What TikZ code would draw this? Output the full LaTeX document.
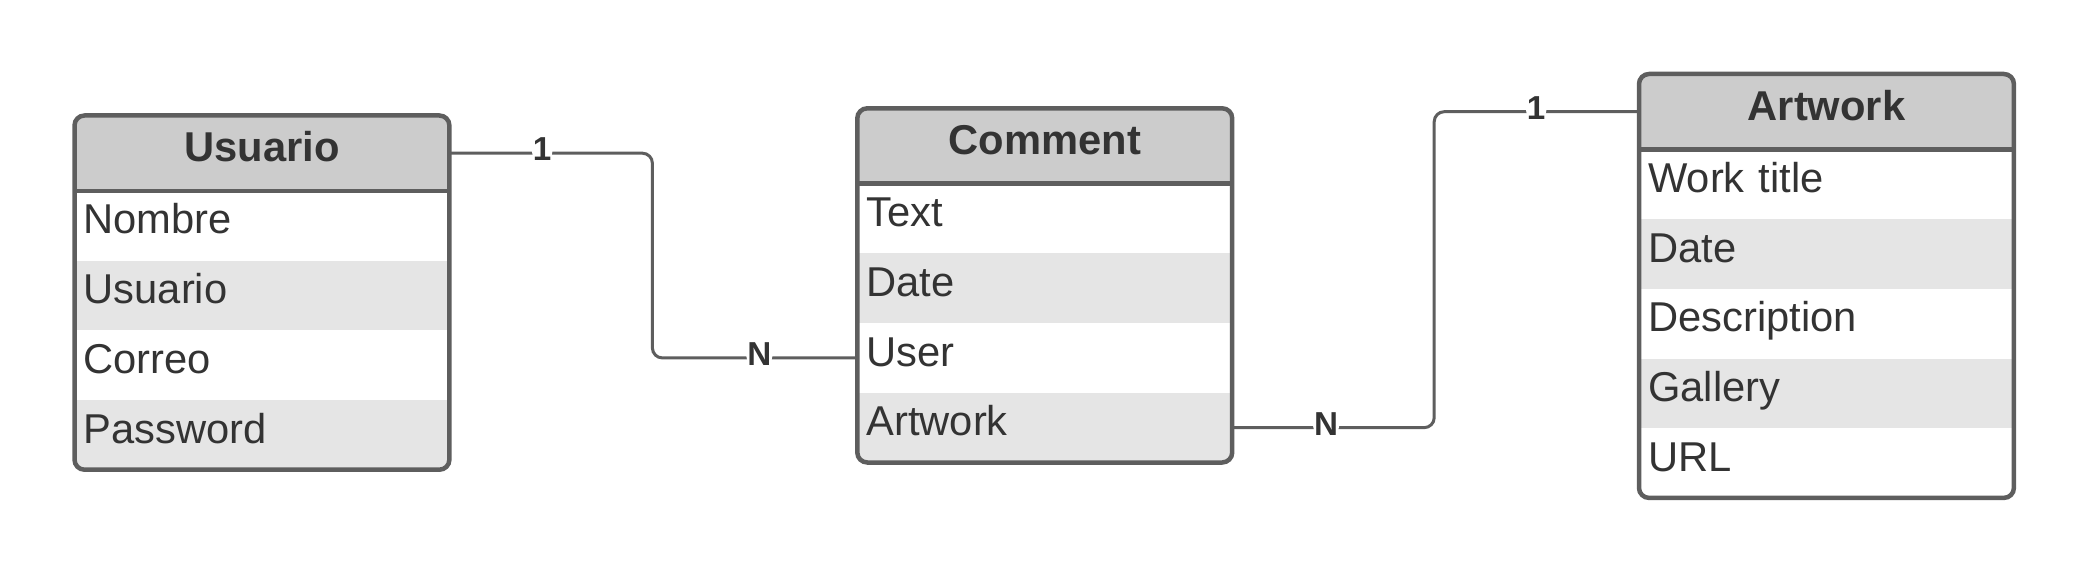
\documentclass[tikz,border=0pt]{standalone}
\usepackage{fontspec}
\setmainfont{Liberation Sans}
\usetikzlibrary{backgrounds}
\definecolor{borderc}{HTML}{5E5E5E}
\definecolor{headgray}{HTML}{CCCCCC}
\definecolor{rowgray}{HTML}{E5E5E5}
\definecolor{textc}{HTML}{333333}
\newcommand{\erfont}{\fontsize{41.7}{48}\selectfont}
\newcommand{\lblfont}{\fontsize{33.2}{38}\selectfont\bfseries}
\tikzset{
  ehead/.style={rectangle, inner sep=0pt, text width=374.5pt, align=center,
    text height=46pt, text depth=29pt, font=\erfont\bfseries, text=textc},
  erow/.style={rectangle, inner xsep=9pt, inner ysep=0pt, text width=356.5pt, align=left,
    text height=42.8pt, text depth=26.5pt, font=\erfont, text=textc},
  conn/.style={draw=borderc, line width=3pt, rounded corners=10pt},
  card/.style={fill=white, inner sep=1pt, font=\lblfont, text=textc, yshift=4pt}
}
\newcommand{\erentity}[5]{%
  \node[ehead, anchor=north west] (#1-h) at (#2,#3) {#4};
  \foreach \r [count=\i, remember=\i as \lasti (initially h)] in {#5} {
    \node[erow, anchor=north west] (#1-\i) at (#1-\lasti.south west) {\r};
    \xdef\erlast{\i}
  }
  \begin{scope}[on background layer]
    \begin{scope}
      \clip[rounded corners=10pt] (#1-h.north west) rectangle (#1-\erlast.south east);
      \fill[white] (#1-h.north west) rectangle (#1-\erlast.south east);
      \fill[headgray] (#1-h.north west) rectangle (#1-h.south east);
      \foreach \i in {1,...,\erlast} {\ifodd\i\else \fill[rowgray] (#1-\i.north west) rectangle (#1-\i.south east);\fi}
    \end{scope}
  \end{scope}
  \draw[borderc, line width=4.5pt, rounded corners=10pt] (#1-h.north west) rectangle (#1-\erlast.south east);
  \draw[borderc, line width=4.5pt] (#1-h.south west) -- (#1-h.south east);
}
\begin{document}
\begin{tikzpicture}[x=1pt, y=-1pt]
\useasboundingbox (0,0) rectangle (2091,572);
\erentity{usuario}{74.5}{115.5}{Usuario}{Nombre,Usuario,Correo,Password}
\erentity{comment}{857.3}{108.3}{Comment}{Text,Date,User,Artwork}
\erentity{artwork}{1639}{74}{Artwork}{Work title,Date,Description,Gallery,URL}
\draw[conn] (usuario-h.east) -- ++(203,0) node[card, pos=0.457] {1}
  |- (comment-3.west) node[card, pos=0.761] {N};
\draw[conn] (comment-4.east) -- ++(202,0) node[card, pos=0.465] {N}
  |- (artwork-h.west) node[card, pos=0.749] {1};
\end{tikzpicture}
\end{document}
